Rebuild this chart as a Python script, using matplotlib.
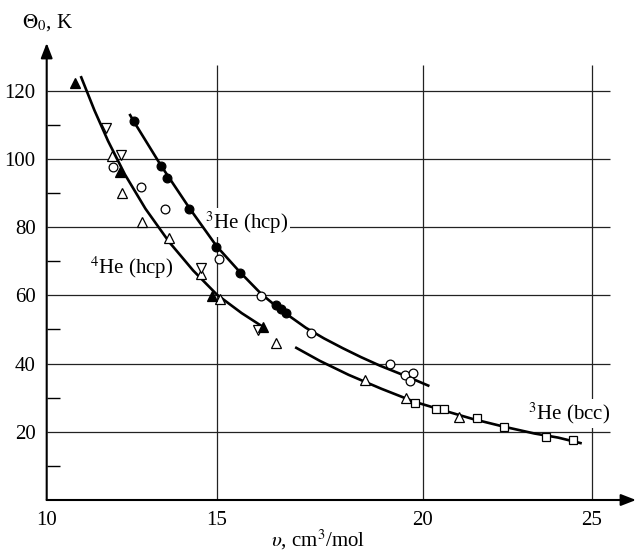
import numpy as np
import matplotlib
matplotlib.use("Agg")
import matplotlib.pyplot as plt

plt.rcParams["font.family"] = ["Liberation Serif", "DejaVu Serif"]
plt.rcParams["mathtext.fontset"] = "stix"

# ---- measured points: molar volume v (cm^3/mol) vs Debye temperature (K) ----
filled_tri_v = [10.83, 12.14, 14.85, 16.11]
filled_tri_t = [122.2, 96.3, 59.9, 50.8]

inv_tri_v = [11.74, 12.18, 14.53, 16.0]
inv_tri_t = [109.2, 101.2, 68.0, 49.9]

open_tri_v = [11.91, 12.21, 12.79, 13.59, 14.53, 15.07, 16.44, 18.6, 19.6, 21.08]
open_tri_t = [100.9, 90.1, 81.4, 76.7, 66.3, 58.8, 46.1, 35.2, 29.8, 24.3]

open_circ_v = [11.94, 12.76, 13.48, 15.05, 16.07, 17.28, 19.2, 19.57, 19.76, 19.69]
open_circ_t = [97.6, 91.8, 85.3, 70.8, 59.9, 49.1, 40.0, 36.7, 37.2, 34.9]

filled_circ_v = [12.57, 13.36, 13.54, 14.19, 14.98, 15.56, 16.44, 16.55, 16.69]
filled_circ_t = [111.2, 98.0, 94.3, 85.3, 74.1, 66.7, 57.2, 55.9, 54.9]

square_v = [19.82, 20.4, 20.63, 21.6, 22.41, 23.65, 24.45]
square_t = [28.5, 26.7, 26.7, 24.0, 21.5, 18.6, 17.6]

# ---- guide curves ----
he3_hcp_v = [12.43, 12.57, 13.36, 14.19, 14.99, 15.56, 16.07, 16.53, 17.16, 17.6,
             18.06, 18.5, 18.96, 19.6, 20.2]
he3_hcp_t = [113.2, 110.8, 98.0, 85.6, 74.4, 66.8, 60.5, 55.9, 50.5, 47.4,
             44.5, 41.9, 39.4, 36.3, 33.4]

he4_hcp_v = [11.0, 11.4, 11.8, 12.3, 12.9, 13.6, 14.3, 15.0, 15.6, 16.1]
he4_hcp_t = [124.3, 114.3, 105.3, 95.4, 85.4, 75.6, 67.3, 60.2, 54.8, 50.9]

he3_bcc_v = [16.9, 17.5, 18.2, 19.0, 19.8, 20.6, 21.5, 22.4, 23.3, 24.0, 24.7]
he3_bcc_t = [44.8, 40.8, 36.7, 32.6, 28.8, 26.3, 23.7, 21.5, 19.5, 18.3, 16.6]

x_ticks = [10, 15, 20, 25]
y_ticks = [20, 40, 60, 80, 100, 120]
y_minor = [10, 30, 50, 70, 90, 110]

# piecewise-linear volume axis (the 15-20 interval is drawn wider)
_xk = np.array([5.0, 10.0, 15.0, 20.0, 25.0, 30.0])
_pk = np.array([-170.3, 0.0, 170.3, 376.0, 545.3, 714.8])


def fwd(x):
    return np.interp(x, _xk, _pk)


def inv(p):
    return np.interp(p, _pk, _xk)


W, H = 636, 554
fig = plt.figure(figsize=(W / 100, H / 100), dpi=100)
x0, x1 = 46.7, 636.0
y_top, y_bot = 43.0, 500.0
ax = fig.add_axes([x0 / W, (H - y_bot) / H, (x1 - x0) / W, (y_bot - y_top) / H])
ax.set_xscale("function", functions=(fwd, inv))
ax.set_xlim(10, 26.3)
ax.set_ylim(0, 134)
for s in ax.spines.values():
    s.set_visible(False)

# grid
ax.hlines(y_ticks, 10, 25.53, color="#222222", lw=0.9, zorder=1)
ax.vlines(x_ticks[1:], 0, 127.6, color="#222222", lw=0.9, zorder=1)

# axes with arrows
arrow = dict(arrowstyle="-|>,head_length=0.9,head_width=0.35", color="black",
             lw=1.5, shrinkA=0, shrinkB=0)
ax.annotate("", xy=(1, 0), xytext=(0, 0), xycoords="axes fraction", arrowprops=arrow)
ax.annotate("", xy=(0, 1), xytext=(0, 0), xycoords="axes fraction", arrowprops=arrow)

ax.set_xticks(x_ticks)
ax.set_xticklabels([str(t) for t in x_ticks])
ax.set_yticks(y_ticks)
ax.set_yticklabels([str(t) for t in y_ticks])
ax.set_yticks(y_minor, minor=True)
ax.xaxis.set_minor_locator(matplotlib.ticker.NullLocator())
ax.tick_params(axis="x", which="major", length=0, pad=8, labelsize=15)
ax.tick_params(axis="y", which="major", length=0, pad=8, labelsize=15)
ax.tick_params(axis="y", which="minor", direction="in", length=9, width=1.0)

# curves
lc = dict(color="black", lw=1.9, zorder=3, solid_capstyle="butt",
          solid_joinstyle="round")
ax.plot(he3_hcp_v, he3_hcp_t, **lc)
ax.plot(he4_hcp_v, he4_hcp_t, **lc)
ax.plot(he3_bcc_v, he3_bcc_t, **lc)

mk = dict(linestyle="none", markeredgecolor="black", markeredgewidth=0.9, zorder=4,
          clip_on=False)
ax.plot(open_tri_v, open_tri_t, marker="^", markersize=7.5, markerfacecolor="white", **mk)
ax.plot(inv_tri_v, inv_tri_t, marker="v", markersize=7.5, markerfacecolor="white", **mk)
ax.plot(filled_tri_v, filled_tri_t, marker="^", markersize=7.5, markerfacecolor="black", **mk)
ax.plot(open_circ_v, open_circ_t, marker="o", markersize=6.3, markerfacecolor="white", **mk)
ax.plot(filled_circ_v, filled_circ_t, marker="o", markersize=6.3, markerfacecolor="black", **mk)
ax.plot(square_v, square_t, marker="s", markersize=6.0, markerfacecolor="white", **mk)

# curve labels
box = dict(facecolor="white", edgecolor="none", pad=1.0)
ax.text(15.72, 81.4, r"$^3$He (hcp)", fontsize=15, ha="center", va="center",
        bbox=box, zorder=2)
ax.text(12.48, 68.2, r"$^4$He (hcp)", fontsize=15, ha="center", va="center",
        bbox=box, zorder=2)
ax.text(24.32, 25.4, r"$^3$He (bcc)", fontsize=15, ha="center", va="center",
        bbox=box, zorder=2)

# axis titles
fig.text(318 / W, 1 - 540 / H, r"$\upsilon$, cm$^3$/mol", fontsize=15,
         ha="center", va="center")
fig.text(47 / W, 1 - 23 / H, r"$\Theta_0$, K", fontsize=15, ha="center", va="center")

fig.savefig("out.png", dpi=100)
